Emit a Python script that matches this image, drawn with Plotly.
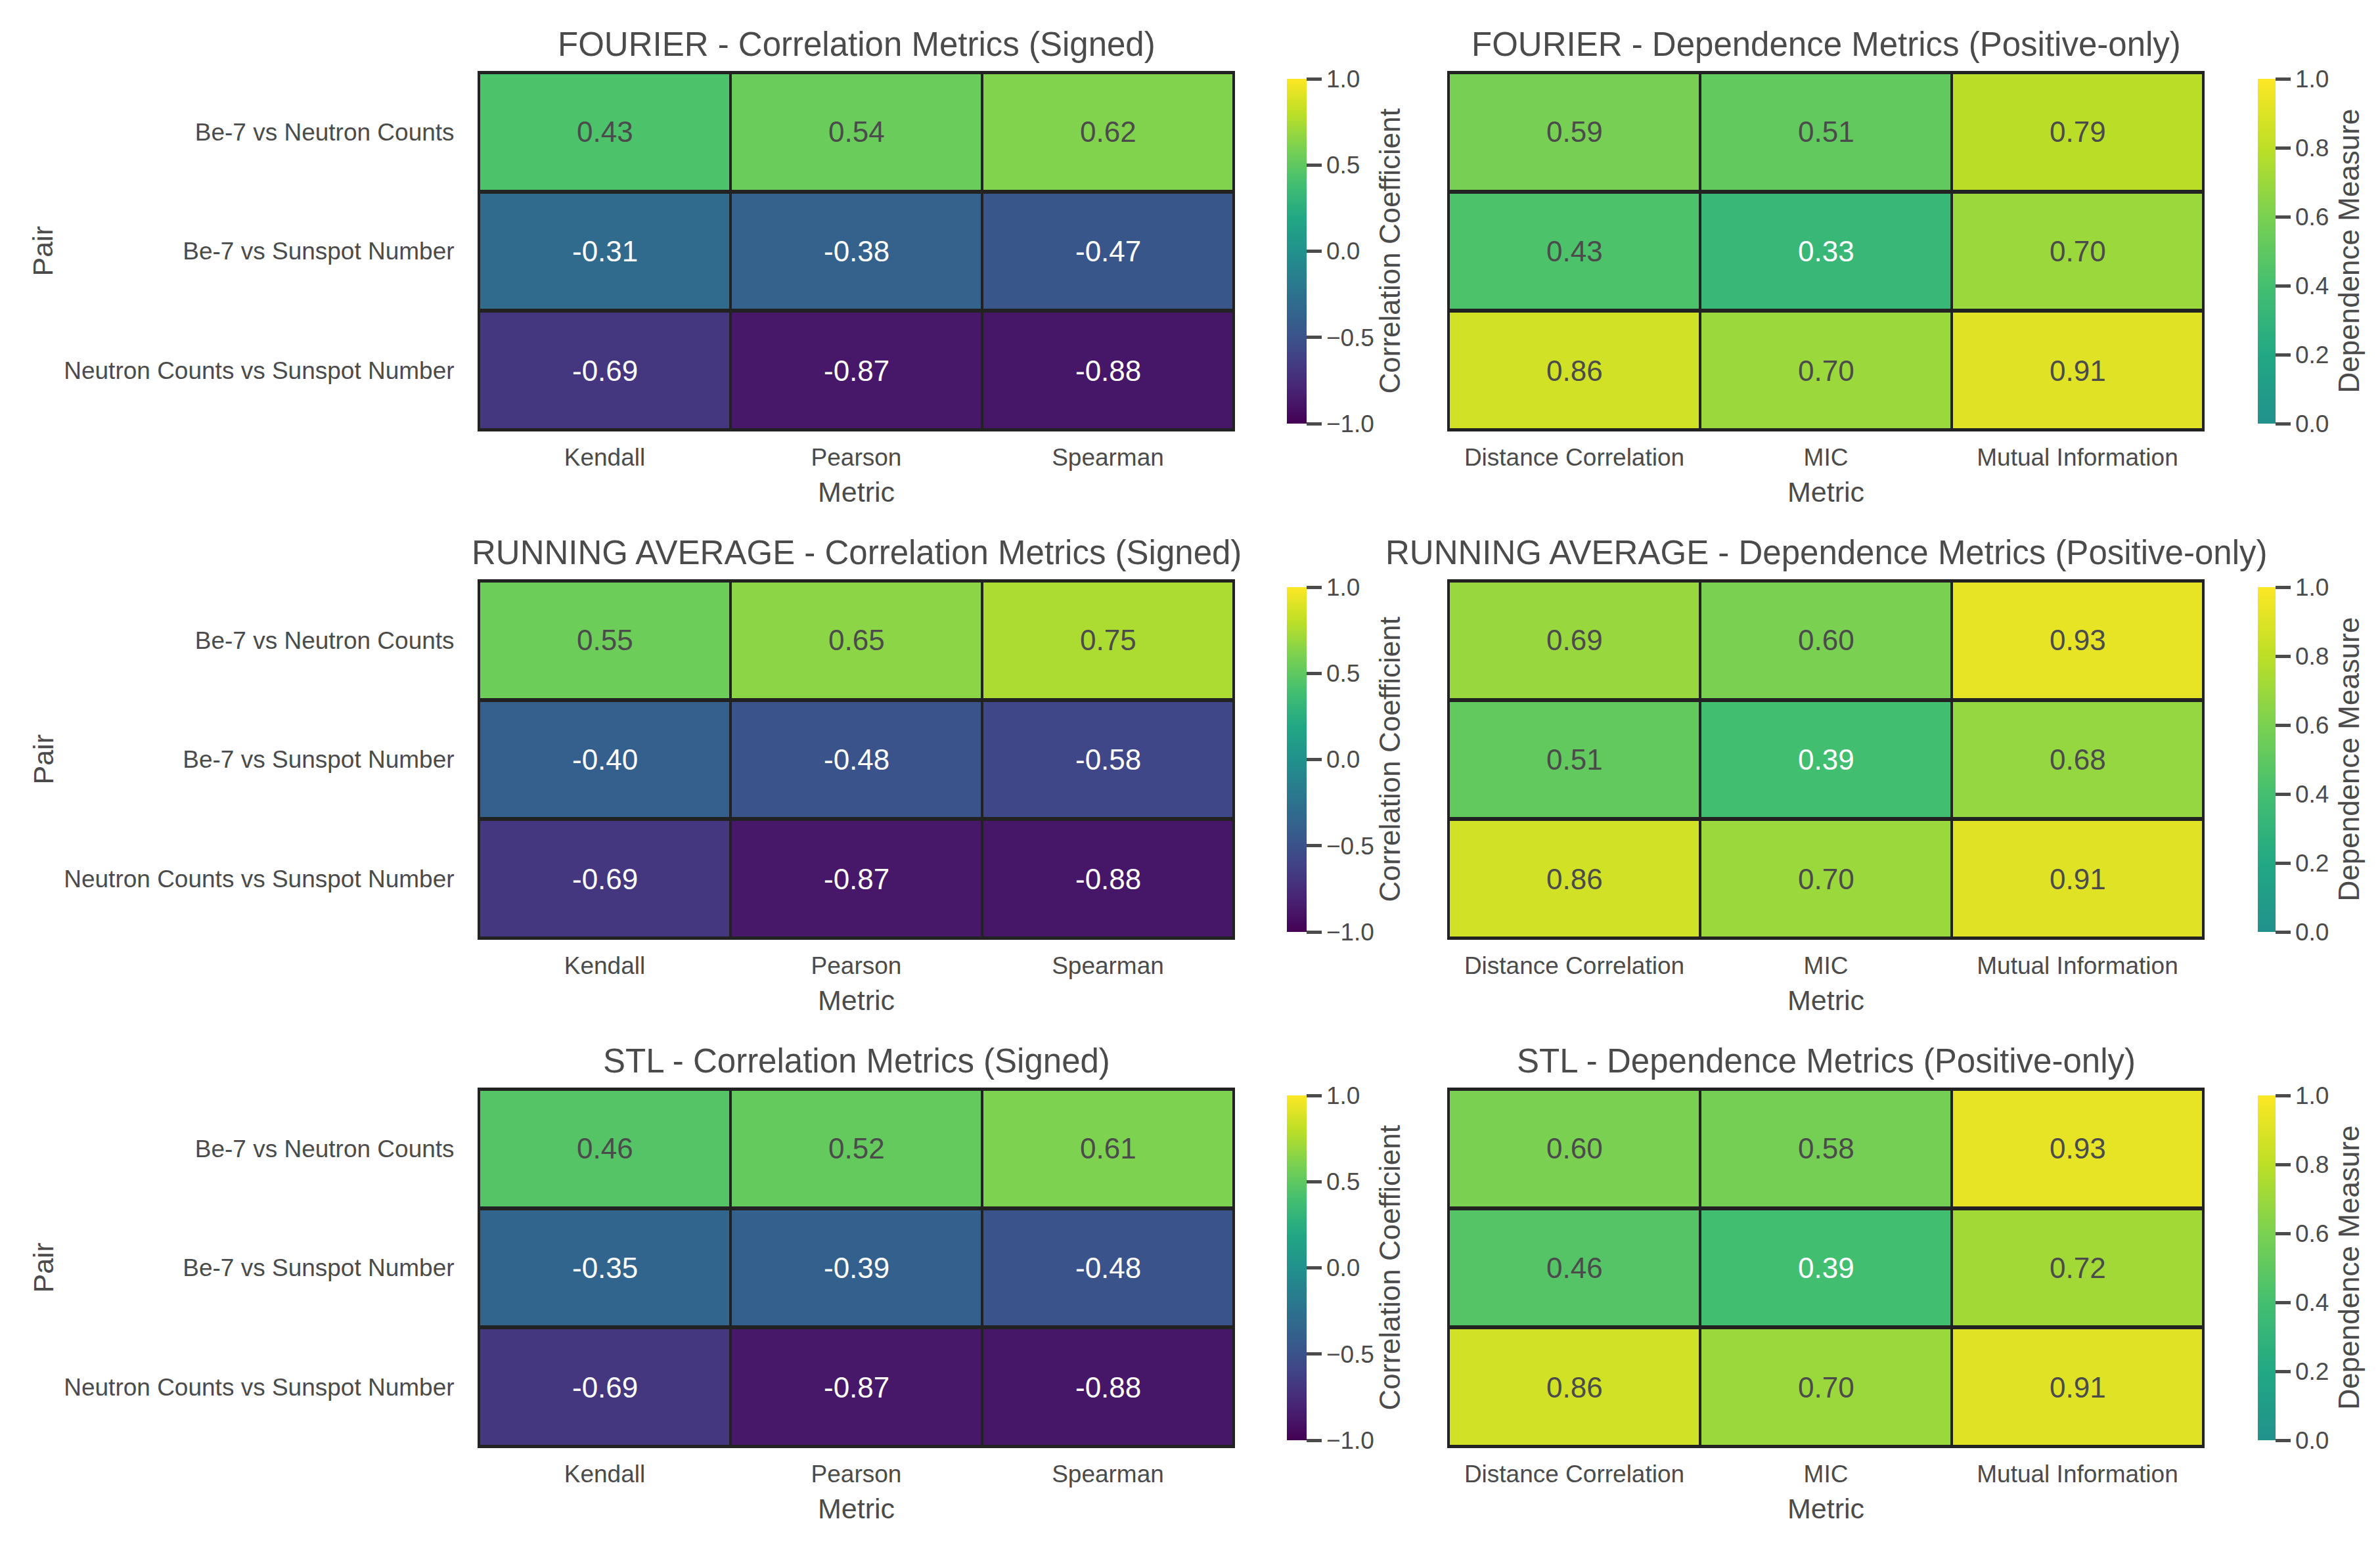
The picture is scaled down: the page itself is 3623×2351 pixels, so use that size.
import plotly.graph_objects as go

# ---------------- data ----------------
pairs = ["Be-7 vs Neutron Counts", "Be-7 vs Sunspot Number", "Neutron Counts vs Sunspot Number"]
corr_metrics = ["Kendall", "Pearson", "Spearman"]
dep_metrics = ["Distance Correlation", "MIC", "Mutual Information"]
methods = ["FOURIER", "RUNNING AVERAGE", "STL"]

fourier_corr = [[0.43, 0.54, 0.62], [-0.31, -0.38, -0.47], [-0.69, -0.87, -0.88]]
fourier_dep = [[0.59, 0.51, 0.79], [0.43, 0.33, 0.70], [0.86, 0.70, 0.91]]
running_corr = [[0.55, 0.65, 0.75], [-0.40, -0.48, -0.58], [-0.69, -0.87, -0.88]]
running_dep = [[0.69, 0.60, 0.93], [0.51, 0.39, 0.68], [0.86, 0.70, 0.91]]
stl_corr = [[0.46, 0.52, 0.61], [-0.35, -0.39, -0.48], [-0.69, -0.87, -0.88]]
stl_dep = [[0.60, 0.58, 0.93], [0.46, 0.39, 0.72], [0.86, 0.70, 0.91]]

corr_tables = [fourier_corr, running_corr, stl_corr]
dep_tables = [fourier_dep, running_dep, stl_dep]

# ---------------- style ----------------
viridis = ["#440154", "#482475", "#414487", "#355f8d", "#2a788e", "#21918c",
           "#22a884", "#44bf70", "#7ad151", "#bddf26", "#fde725"]
full_scale = [[i / 10, c] for i, c in enumerate(viridis)]
half_scale = [[(i - 5) / 5, viridis[i]] for i in range(5, 11)]

FONT = "Arial"
TXT = "#4b4b4b"
LINE = "#222222"

W, H = 3623, 2351
row_tops = [102, 876, 1650]
cell_h = 545
col_x = [(721, 1870), (2197, 3346)]
cb_left = [1941, 3419]
cb_thick = [30, 27]
cb_title_x = [2107, 3567]


def px(x):
    return x / W


def py(y):
    return 1 - y / H


fig = go.Figure()
annotations = []
layout_axes = {}

for i, method in enumerate(methods):
    top = row_tops[i]
    bottom = top + cell_h
    for j in range(2):
        k = 2 * i + j + 1
        xa = "x" if k == 1 else f"x{k}"
        ya = "y" if k == 1 else f"y{k}"
        xname = "xaxis" if k == 1 else f"xaxis{k}"
        yname = "yaxis" if k == 1 else f"yaxis{k}"
        if j == 0:
            z = corr_tables[i]
            cols = corr_metrics
            zmin, zmax = -1.0, 1.0
            scale = full_scale
            cb_title = "Correlation Coefficient"
            dtick = 0.5
            title = f"{method} - Correlation Metrics (Signed)"
        else:
            z = dep_tables[i]
            cols = dep_metrics
            zmin, zmax = 0.0, 1.0
            scale = half_scale
            cb_title = "Dependence Measure"
            dtick = 0.2
            title = f"{method} - Dependence Metrics (Positive-only)"

        fig.add_trace(go.Heatmap(
            z=z, x=cols, y=pairs, zmin=zmin, zmax=zmax, colorscale=scale,
            xgap=4, ygap=6, xaxis=xa, yaxis=ya, hoverinfo="skip",
            colorbar=dict(
                x=px(cb_left[j]), xanchor="left", y=py(top), yanchor="top",
                len=cell_h / H, lenmode="fraction", thickness=cb_thick[j],
                outlinewidth=0, ticks="outside", ticklen=23, tickwidth=5,
                tickcolor=TXT, tick0=zmin, dtick=dtick, tickformat=".1f",
                tickfont=dict(family=FONT, size=37, color=TXT),
            ),
        ))

        # cell value labels
        for r, pair in enumerate(pairs):
            for c, m in enumerate(cols):
                v = z[r][c]
                pos = (v - zmin) / (zmax - zmin)
                if j == 1:
                    pos = 0.5 + 0.5 * pos
                color = "white" if pos < 0.70 else TXT
                annotations.append(dict(
                    x=m, y=pair, xref=xa, yref=ya, text=f"{v:.2f}",
                    showarrow=False, font=dict(family=FONT, size=44, color=color),
                ))

        x0, x1 = col_x[j]
        layout_axes[xname] = dict(
            domain=[px(x0), px(x1)], anchor=ya, showgrid=False, zeroline=False,
            showline=True, mirror=True, linecolor=LINE, linewidth=2,
            ticks="", tickfont=dict(family=FONT, size=37, color=TXT),
            ticklabelstandoff=8, fixedrange=True,
        )
        layout_axes[yname] = dict(
            domain=[py(bottom), py(top)], anchor=xa, autorange="reversed",
            showgrid=False, zeroline=False, showline=True, mirror=True,
            linecolor=LINE, linewidth=2, ticks="",
            showticklabels=(j == 0),
            tickfont=dict(family=FONT, size=37, color=TXT),
            ticklabelstandoff=28, fixedrange=True,
        )

        # subplot title
        annotations.append(dict(
            x=px((x0 + x1) / 2), y=py(top - 12), xref="paper", yref="paper",
            text=title, showarrow=False, xanchor="center", yanchor="bottom",
            font=dict(family=FONT, size=51, color=TXT),
        ))
        # x axis title
        annotations.append(dict(
            x=px((x0 + x1) / 2), y=py(bottom + 94), xref="paper", yref="paper",
            text="Metric", showarrow=False, xanchor="center", yanchor="middle",
            font=dict(family=FONT, size=43, color=TXT),
        ))
        # colorbar title
        annotations.append(dict(
            x=px(cb_title_x[j]), y=py((top + bottom) / 2), xref="paper", yref="paper",
            text=cb_title, showarrow=False, textangle=-90,
            xanchor="center", yanchor="middle",
            font=dict(family=FONT, size=44, color=TXT),
        ))
        if j == 0:
            annotations.append(dict(
                x=px(57), y=py((top + bottom) / 2), xref="paper", yref="paper",
                text="Pair", showarrow=False, textangle=-90,
                xanchor="center", yanchor="middle",
                font=dict(family=FONT, size=43, color=TXT),
            ))

fig.update_layout(
    width=W, height=H, margin=dict(l=0, r=0, t=0, b=0),
    paper_bgcolor="white", plot_bgcolor=LINE,
    annotations=annotations, showlegend=False,
    **layout_axes,
)

fig.write_html("out.html")
